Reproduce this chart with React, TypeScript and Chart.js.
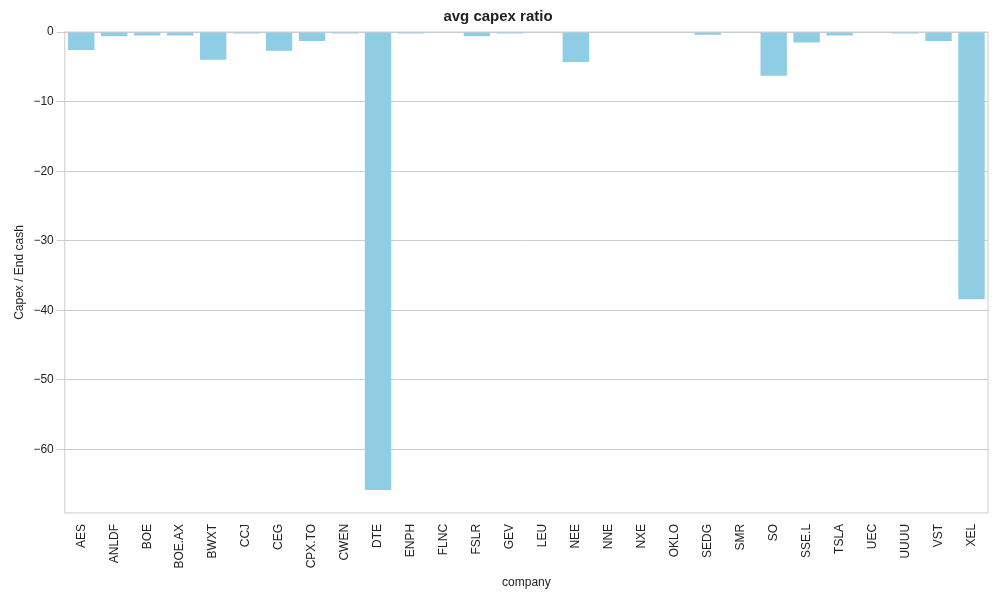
import { useEffect, useRef } from "react";
import Chart from "chart.js/auto";

const companies = [
  "AES", "ANLDF", "BOE", "BOE.AX", "BWXT", "CCJ", "CEG", "CPX.TO", "CWEN", "DTE",
  "ENPH", "FLNC", "FSLR", "GEV", "LEU", "NEE", "NNE", "NXE", "OKLO", "SEDG",
  "SMR", "SO", "SSE.L", "TSLA", "UEC", "UUUU", "VST", "XEL",
];
const capexRatio = [
  -2.6, -0.6, -0.5, -0.5, -4.0, -0.2, -2.7, -1.3, -0.2, -65.8,
  -0.2, 0, -0.6, -0.2, 0, -4.3, 0, 0, 0, -0.4,
  0, -6.3, -1.5, -0.5, 0, -0.2, -1.3, -38.4,
];
const yTicks = [0, -10, -20, -30, -40, -50, -60];

const frame = {
  id: "frame",
  afterDraw(chart: Chart) {
    const { ctx, chartArea: a } = chart;
    ctx.save();
    ctx.strokeStyle = "#cccccc";
    ctx.lineWidth = 1;
    ctx.strokeRect(a.left, a.top, a.right - a.left, a.bottom - a.top);
    ctx.restore();
  },
};

export default function App() {
  const ref = useRef<HTMLCanvasElement>(null);

  useEffect(() => {
    document.body.style.margin = "0";
    if (!ref.current) return;
    const font = { family: "'Liberation Sans', Arial, sans-serif", size: 12 };
    const chart = new Chart(ref.current, {
      type: "bar",
      data: {
        labels: companies,
        datasets: [
          {
            data: capexRatio,
            backgroundColor: "#8ecde3",
            categoryPercentage: 1,
            barPercentage: 0.8,
          },
        ],
      },
      options: {
        animation: false,
        responsive: false,
        layout: { padding: { top: 8, right: 12, left: 8, bottom: 6 } },
        plugins: {
          legend: { display: false },
          tooltip: { enabled: false },
          title: {
            display: true,
            text: "avg capex ratio",
            color: "#222",
            font: { ...font, size: 15 },
            padding: { top: 0, bottom: 6 },
          },
        },
        scales: {
          x: {
            grid: { display: false },
            border: { display: false },
            ticks: { color: "#222", font, maxRotation: 90, minRotation: 90, autoSkip: false },
            title: { display: true, text: "company", color: "#222", font },
          },
          y: {
            min: -69.1,
            max: 0,
            afterBuildTicks: (axis: any) => {
              axis.ticks = yTicks.map((v) => ({ value: v }));
            },
            grid: { color: "#cccccc" },
            border: { display: false },
            ticks: {
              color: "#222",
              font,
              callback: (v: any) => String(v).replace("-", "\u2212"),
            },
            title: { display: true, text: "Capex / End cash", color: "#222", font },
          },
        },
      },
      plugins: [frame],
    });
    return () => chart.destroy();
  }, []);

  return <canvas ref={ref} width={1000} height={600} style={{ display: "block" }} />;
}
